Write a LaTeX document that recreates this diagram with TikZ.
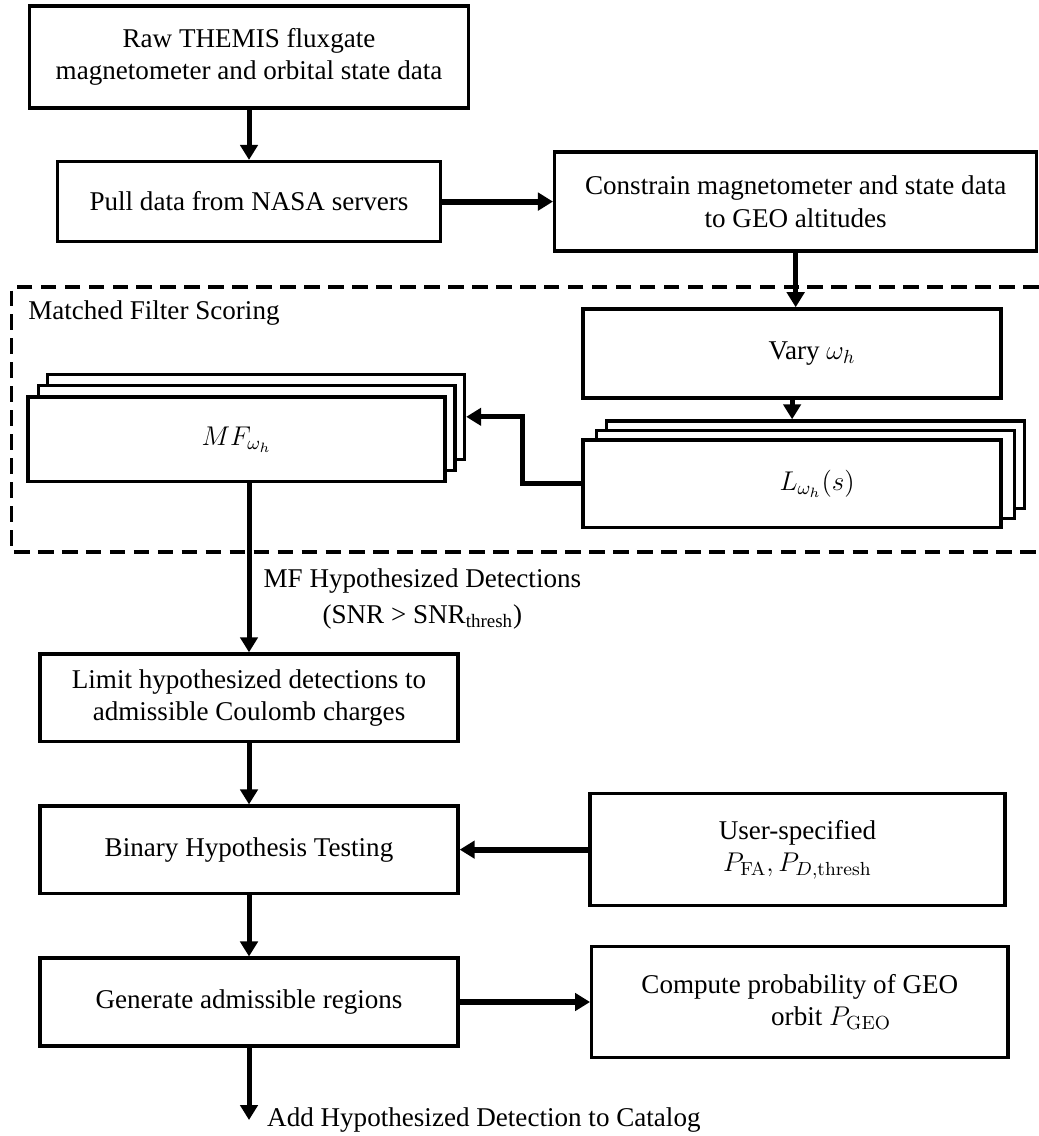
\RequirePackage{fix-cm}
\documentclass[tikz,border=0pt]{standalone}
\usepackage[no-math]{fontspec}
\setmainfont{Liberation Serif}
\usepackage{amsmath}
\usetikzlibrary{arrows.meta,positioning}

\begin{document}
\begin{tikzpicture}[
  box/.style={draw, line width=1.6pt, fill=white, align=center, inner sep=4pt,
    font=\fontsize{13}{15.6}\selectfont},
  txt/.style={align=center, inner sep=0pt, font=\fontsize{13}{17}\selectfont},
  flow/.style={-{Triangle[length=7.2pt,width=8.3pt]}, line width=2.4pt},
  wideflow/.style={flow, line width=2.9pt},
  frame/.style={line width=1.5pt, dash pattern=on 7.5pt off 4pt}
]
\useasboundingbox (0,0) rectangle (17.52,-19.16);

\draw[frame] (17.52,-4.84) -| (0.20,-9.31) -- (17.52,-9.31);

\node[box, minimum width=7.40cm, minimum height=1.72cm] (raw) at (4.20,-0.96)
  {Raw THEMIS fluxgate\\magnetometer and orbital state data};
\node[box, minimum width=6.46cm, minimum height=1.35cm] (pull) at (4.20,-3.40)
  {Pull data from NASA servers};
\node[box, minimum width=8.13cm, minimum height=1.67cm] (constrain) at (13.42,-3.40)
  {Constrain magnetometer and state data\\to GEO altitudes};

\node[txt, anchor=west] (mfs) at (0.47,-5.28) {Matched Filter Scoring};
\node[box, minimum width=7.05cm, minimum height=1.50cm] (vary) at (13.36,-5.96)
  {\hspace*{19pt}Vary $\omega_h$};
\node[box, minimum width=7.05cm, minimum height=1.48cm] (lback) at (13.75,-7.84) {};
\node[box, minimum width=7.05cm, minimum height=1.48cm] (lmid) at (13.59,-8.00) {};
\node[box, minimum width=7.05cm, minimum height=1.48cm] (lfront) at (13.36,-8.16)
  {\hspace*{24pt}$L_{\omega_h}(s)$};
\node[box, minimum width=7.03cm, minimum height=1.43cm] (mfback) at (4.32,-7.03) {};
\node[box, minimum width=7.03cm, minimum height=1.43cm] (mfmid) at (4.16,-7.22) {};
\node[box, minimum width=7.03cm, minimum height=1.43cm] (mf) at (3.99,-7.41)
  {$MF_{\omega_h}$};

\node[txt, anchor=west] (mfdet) at (4.44,-10.10)
  {MF Hypothesized Detections\\(SNR > SNR\textsubscript{thresh})};
\node[box, minimum width=7.05cm, minimum height=1.48cm] (limit) at (4.20,-11.77)
  {Limit hypothesized detections to\\admissible Coulomb charges};
\node[box, minimum width=7.05cm, minimum height=1.47cm] (binary) at (4.20,-14.33)
  {Binary Hypothesis Testing};
\node[box, minimum width=7.00cm, minimum height=1.89cm] (user) at (13.45,-14.33)
  {User-specified\\$P_{\mathrm{FA}}, P_{D,\mathrm{thresh}}$};
\node[box, minimum width=7.05cm, minimum height=1.48cm] (gen) at (4.20,-16.90)
  {Generate admissible regions};
\node[box, minimum width=7.02cm, minimum height=1.87cm] (compute) at (13.49,-16.90)
  {Compute probability of GEO\\\hspace*{30pt}orbit $P_{\mathrm{GEO}}$};
\node[txt, anchor=west] (catalog) at (4.50,-18.89)
  {Add Hypothesized Detection to Catalog};

\draw[flow] (raw) -- (pull);
\draw[wideflow] (pull) -- (constrain);
\draw[flow] (constrain.south) -- (constrain.south |- vary.north);
\draw[flow] (vary.south) -- (vary.south |- lback.north);
\draw[flow] (lfront.west) -- ++(-1.0,0) |- (mfback.east);
\draw[flow] (mf.south -| limit.north) -- (limit.north);
\draw[flow] (limit) -- (binary);
\draw[wideflow] (user) -- (binary);
\draw[flow] (binary) -- (gen);
\draw[wideflow] (gen) -- (compute);
\draw[flow] (gen) -- (gen.south |- catalog.west);
\end{tikzpicture}
\end{document}
